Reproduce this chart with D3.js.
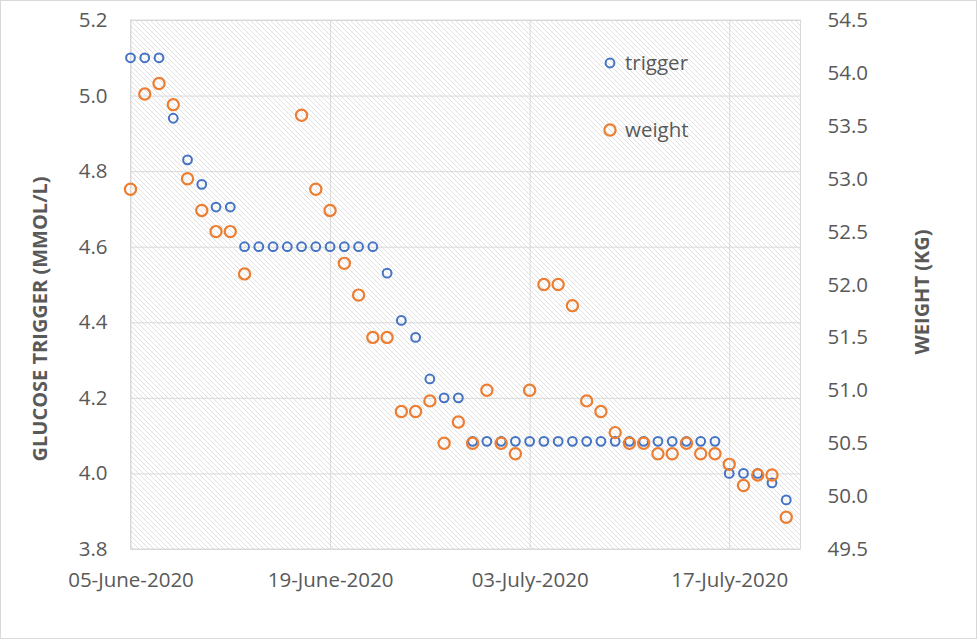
<!DOCTYPE html>
<html><head><meta charset="utf-8">
<script src="https://cdn.jsdelivr.net/npm/d3@7"></script>
<style>body{margin:0;background:#fff}svg{display:block}</style>
</head><body>
<svg id="c" width="977" height="639"></svg>
<script>
const startDate = "2020-06-05";
const endDate = "2020-07-22";
const trigger = [5.1,5.1,5.1,4.94,4.83,4.765,4.705,4.705,
  4.6,4.6,4.6,4.6,4.6,4.6,4.6,4.6,4.6,4.6,
  4.53,4.405,4.36,4.25,4.2,4.2,
  4.085,4.085,4.085,4.085,4.085,4.085,4.085,4.085,4.085,4.085,4.085,4.085,4.085,4.085,4.085,4.085,4.085,4.085,
  4.0,4.0,4.0,3.975,3.93];
const weight = [52.9,53.8,53.9,53.7,53.0,52.7,52.5,52.5,52.1,null,null,null,
  53.6,52.9,52.7,52.2,51.9,51.5,51.5,50.8,50.8,50.9,50.5,50.7,50.5,51.0,
  50.5,50.4,51.0,52.0,52.0,51.8,50.9,50.8,50.6,50.5,50.5,50.4,50.4,50.5,50.4,50.4,
  50.3,50.1,50.2,50.2,49.8];
const xTicks = ["2020-06-05","2020-06-19","2020-07-03","2020-07-17"];
const leftTicks = [3.8,4.0,4.2,4.4,4.6,4.8,5.0,5.2];
const rightTicks = [49.5,50.0,50.5,51.0,51.5,52.0,52.5,53.0,53.5,54.0,54.5];
const seriesNames = ["trigger","weight"];

const parse = d3.utcParse("%Y-%m-%d");
const fmtDate = d3.utcFormat("%d-%B-%Y");
const dates = trigger.map((_, i) => d3.utcDay.offset(parse(startDate), i));

const W = 977, H = 639;
const L = 130.5, R = 800.5, T = 20, B = 549;
const FONT = "'Open Sans', 'Noto Sans', sans-serif";
const gray = "#595959", grid = "#d9d9d9";
const blue = "#4472C4", orange = "#ED7D31";

const svg = d3.select("#c");
const x = d3.scaleUtc().domain([parse(startDate), parse(endDate)]).range([L, R]);
const yL = d3.scaleLinear().domain([3.8, 5.2]).range([B, T]);
const yR = d3.scaleLinear().domain([49.5, 54.5]).range([B, T]);

// outer border
svg.append("rect").attr("x",0.5).attr("y",0.5).attr("width",W-1).attr("height",H-1)
  .attr("fill","#fff").attr("stroke","#d9d9d9");

// hatch pattern
const defs = svg.append("defs");
const pat = defs.append("pattern").attr("id","hatch").attr("patternUnits","userSpaceOnUse")
  .attr("width",5).attr("height",5);
pat.append("rect").attr("width",5).attr("height",5).attr("fill","#fff");
pat.append("path").attr("d","M-1,-1 L6,6 M-1,4 L1,6 M4,-1 L6,1").attr("stroke","#d4d4d4").attr("stroke-width",0.7);

svg.append("rect").attr("x",L).attr("y",T).attr("width",R-L).attr("height",B-T).attr("fill","url(#hatch)");

// gridlines
const gY = svg.append("g")
  .attr("transform",`translate(${L},0)`)
  .call(d3.axisLeft(yL).tickValues(leftTicks).tickSize(-(R-L)).tickFormat(""));
gY.select(".domain").remove();
gY.selectAll("line").attr("stroke",grid).attr("stroke-width",1);
const gX = svg.append("g")
  .attr("transform",`translate(0,${B})`)
  .call(d3.axisBottom(x).tickValues(xTicks.map(parse)).tickSize(-(B-T)).tickFormat(""));
gX.select(".domain").remove();
gX.selectAll("line").attr("stroke",grid).attr("stroke-width",1);

// plot border
svg.append("rect").attr("x",L).attr("y",T).attr("width",R-L).attr("height",B-T)
  .attr("fill","none").attr("stroke",grid);

// tick labels
const axL = svg.append("g").attr("transform",`translate(${L},0)`)
  .call(d3.axisLeft(yL).tickValues(leftTicks).tickSize(0).tickPadding(23).tickFormat(d3.format(".1f")));
const axR = svg.append("g").attr("transform",`translate(${R},0)`)
  .call(d3.axisRight(yR).tickValues(rightTicks).tickSize(0).tickPadding(27).tickFormat(d3.format(".1f")));
const axB = svg.append("g").attr("transform",`translate(0,${B})`)
  .call(d3.axisBottom(x).tickValues(xTicks.map(parse)).tickSize(0).tickPadding(23).tickFormat(fmtDate));
[axL, axR, axB].forEach(a => {
  a.select(".domain").remove();
  a.selectAll("text").attr("fill",gray).style("font-family",FONT).style("font-size","20.5px");
});

// axis titles
svg.append("text").attr("transform",`translate(47,319) rotate(-90)`)
  .attr("text-anchor","middle").attr("fill",gray)
  .style("font-family",FONT).style("font-size","20px").style("font-weight","bold")
  .text("GLUCOSE TRIGGER (MMOL/L)");
svg.append("text").attr("transform",`translate(929,292) rotate(-90)`)
  .attr("text-anchor","middle").attr("fill",gray)
  .style("font-family",FONT).style("font-size","20px").style("font-weight","bold")
  .text("WEIGHT (KG)");

// points
const trigData = dates.map((d,i)=>({d, v: trigger[i]}));
const wData = dates.map((d,i)=>({d, v: weight[i]})).filter(p => p.v != null);

svg.append("g").selectAll("circle").data(trigData).join("circle")
  .attr("cx", p => x(p.d)).attr("cy", p => yL(p.v)).attr("r", 4.4)
  .attr("fill","none").attr("stroke",blue).attr("stroke-width",2);
svg.append("g").selectAll("circle").data(wData).join("circle")
  .attr("cx", p => x(p.d)).attr("cy", p => yR(p.v)).attr("r", 5.6)
  .attr("fill","none").attr("stroke",orange).attr("stroke-width",2.2);

// legend
const leg = svg.append("g");
const legItems = [{name: seriesNames[0], c: blue, r: 4.4, sw: 2, y: 63},
                  {name: seriesNames[1], c: orange, r: 5.6, sw: 2.2, y: 130}];
legItems.forEach(it => {
  leg.append("circle").attr("cx",610).attr("cy",it.y).attr("r",it.r)
    .attr("fill","none").attr("stroke",it.c).attr("stroke-width",it.sw);
  leg.append("text").attr("x",625).attr("y",it.y).attr("dy","0.35em").attr("fill",gray)
    .style("font-family",FONT).style("font-size","20.5px").text(it.name);
});
</script>
</body></html>
